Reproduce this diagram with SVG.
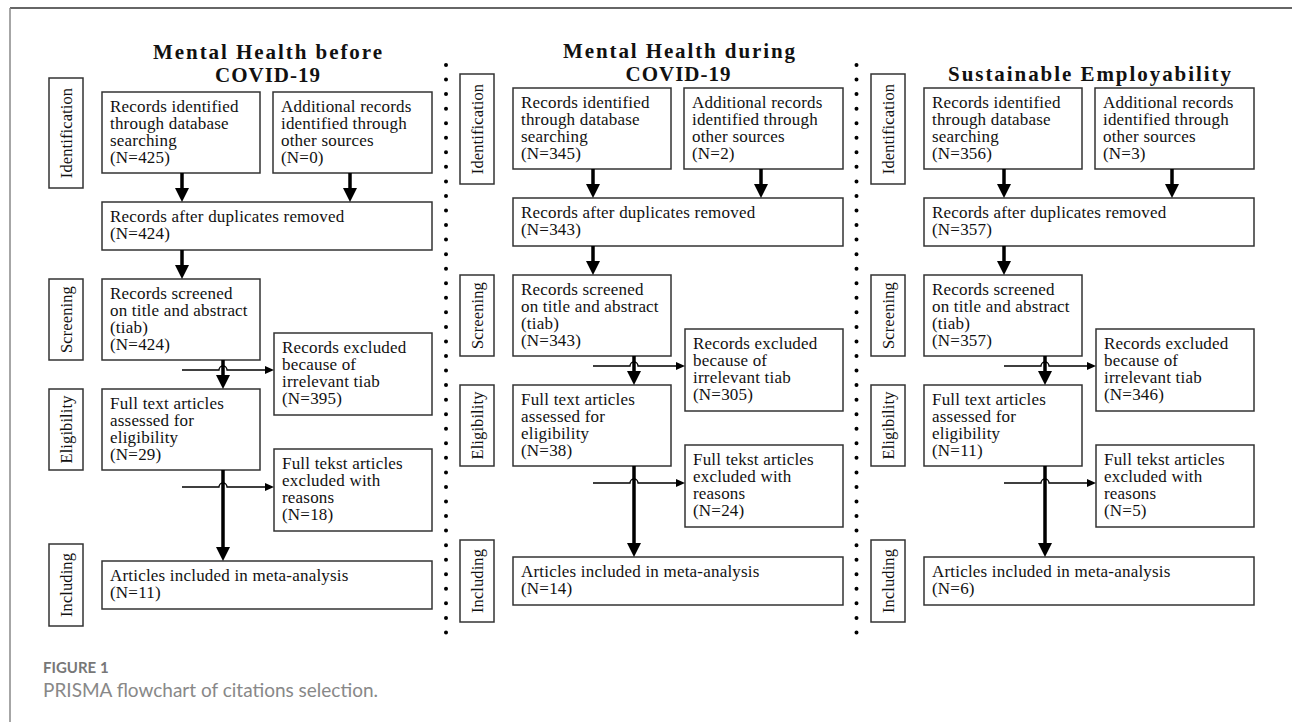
<svg xmlns="http://www.w3.org/2000/svg" width="1292" height="722" viewBox="0 0 1292 722">
<style>
.bg{fill:#fff}
.frame-top{stroke:#333;stroke-width:1.5}
.frame-left{stroke:#888;stroke-width:1.5}
.node rect{fill:#fff;stroke:#333;stroke-width:1.5}
.node text{font-family:"Liberation Serif",serif;font-size:17px;letter-spacing:0.2px;fill:#111}
.lbl text{text-anchor:middle;font-size:16.5px;letter-spacing:0.1px}
.title{font-family:"Liberation Serif",serif;font-weight:bold;font-size:21px;fill:#111;text-anchor:middle}
.thick{stroke:#000;stroke-width:3.5;fill:none}
.thin{stroke:#000;stroke-width:1.3;fill:none}
.dots{stroke:#000;stroke-width:4;stroke-linecap:round;stroke-dasharray:0 14.55}
.fig{font-family:Lato,"Open Sans",sans-serif;font-weight:bold;font-size:15px;fill:#777}
.cap{font-family:Lato,"Open Sans",sans-serif;font-size:19px;fill:#888}
</style>
<defs>
<marker id="ah" markerUnits="userSpaceOnUse" viewBox="0 0 14 14" refX="2" refY="7" markerWidth="14" markerHeight="14" orient="auto"><path d="M0,0 L14,7 L0,14 z" fill="#000"/></marker>
<marker id="ahs" markerUnits="userSpaceOnUse" viewBox="0 0 9 8" refX="2" refY="4" markerWidth="9" markerHeight="8" orient="auto"><path d="M0,0 L9,4 L0,8 z" fill="#000"/></marker>
</defs>
<rect class="bg" x="0" y="0" width="1292" height="722"/>
<line class="frame-top" x1="10" y1="8" x2="1292" y2="8"/>
<line class="frame-left" x1="10" y1="8" x2="10" y2="722"/>

<g id="dividers">
<line class="dots" x1="446" y1="65" x2="446" y2="640"/>
<line class="dots" x1="856.5" y1="65" x2="856.5" y2="640"/>
</g>

<g id="titles">
<text class="title" x="267.5" y="59" textLength="229" lengthAdjust="spacing">Mental Health before</text>
<text class="title" x="267.5" y="82" textLength="105" lengthAdjust="spacing">COVID-19</text>
<text class="title" x="679" y="58" textLength="232" lengthAdjust="spacing">Mental Health during</text>
<text class="title" x="678" y="81" textLength="105" lengthAdjust="spacing">COVID-19</text>
<text class="title" x="1089.5" y="81" textLength="283" lengthAdjust="spacing">Sustainable Employability</text>
</g>

<!-- Panel 1 -->
<g id="panel1">
<g id="p1-ident" class="node lbl" transform="translate(49,78)"><rect width="34" height="110"/><text transform="translate(23,55) rotate(-90)">Identification</text></g>
<g id="p1-screen" class="node lbl" transform="translate(49,279)"><rect width="34" height="81"/><text transform="translate(23,40.5) rotate(-90)">Screening</text></g>
<g id="p1-elig" class="node lbl" transform="translate(49,389)"><rect width="34" height="81"/><text transform="translate(23,40.5) rotate(-90)">Eligibility</text></g>
<g id="p1-incl" class="node lbl" transform="translate(49,544)"><rect width="34" height="82"/><text transform="translate(23,41) rotate(-90)">Including</text></g>
<g id="p1-db" class="node" transform="translate(102,92)"><rect width="158" height="81"/><text x="8" y="20">Records identified<tspan x="8" dy="17">through database</tspan><tspan x="8" dy="17">searching</tspan><tspan x="8" dy="17">(N=425)</tspan></text></g>
<g id="p1-other" class="node" transform="translate(273,92)"><rect width="159" height="81"/><text x="8" y="20">Additional records<tspan x="8" dy="17">identified through</tspan><tspan x="8" dy="17">other sources</tspan><tspan x="8" dy="17">(N=0)</tspan></text></g>
<g id="p1-dup" class="node" transform="translate(102,202)"><rect width="330" height="48"/><text x="8" y="20">Records after duplicates removed<tspan x="8" dy="17">(N=424)</tspan></text></g>
<g id="p1-scr" class="node" transform="translate(102,279)"><rect width="158" height="81"/><text x="8" y="20">Records screened<tspan x="8" dy="17">on title and abstract</tspan><tspan x="8" dy="17">(tiab)</tspan><tspan x="8" dy="17">(N=424)</tspan></text></g>
<g id="p1-exc1" class="node" transform="translate(274,333)"><rect width="158" height="82"/><text x="8" y="20">Records excluded<tspan x="8" dy="17">because of</tspan><tspan x="8" dy="17">irrelevant tiab</tspan><tspan x="8" dy="17">(N=395)</tspan></text></g>
<g id="p1-full" class="node" transform="translate(102,389)"><rect width="158" height="81"/><text x="8" y="20">Full text articles<tspan x="8" dy="17">assessed for</tspan><tspan x="8" dy="17">eligibility</tspan><tspan x="8" dy="17">(N=29)</tspan></text></g>
<g id="p1-exc2" class="node" transform="translate(274,449)"><rect width="158" height="82"/><text x="8" y="20">Full tekst articles<tspan x="8" dy="17">excluded with</tspan><tspan x="8" dy="17">reasons</tspan><tspan x="8" dy="17">(N=18)</tspan></text></g>
<g id="p1-incl-box" class="node" transform="translate(102,561)"><rect width="330" height="48"/><text x="8" y="20">Articles included in meta-analysis<tspan x="8" dy="17">(N=11)</tspan></text></g>
</g>

<!-- Panel 2 -->
<g id="panel2" transform="translate(411,-4)">
<g id="p2-ident" class="node lbl" transform="translate(49,78)"><rect width="34" height="110"/><text transform="translate(23,55) rotate(-90)">Identification</text></g>
<g id="p2-screen" class="node lbl" transform="translate(49,279)"><rect width="34" height="81"/><text transform="translate(23,40.5) rotate(-90)">Screening</text></g>
<g id="p2-elig" class="node lbl" transform="translate(49,389)"><rect width="34" height="81"/><text transform="translate(23,40.5) rotate(-90)">Eligibility</text></g>
<g id="p2-incl" class="node lbl" transform="translate(49,544)"><rect width="34" height="82"/><text transform="translate(23,41) rotate(-90)">Including</text></g>
<g id="p2-db" class="node" transform="translate(102,92)"><rect width="158" height="81"/><text x="8" y="20">Records identified<tspan x="8" dy="17">through database</tspan><tspan x="8" dy="17">searching</tspan><tspan x="8" dy="17">(N=345)</tspan></text></g>
<g id="p2-other" class="node" transform="translate(273,92)"><rect width="159" height="81"/><text x="8" y="20">Additional records<tspan x="8" dy="17">identified through</tspan><tspan x="8" dy="17">other sources</tspan><tspan x="8" dy="17">(N=2)</tspan></text></g>
<g id="p2-dup" class="node" transform="translate(102,202)"><rect width="330" height="48"/><text x="8" y="20">Records after duplicates removed<tspan x="8" dy="17">(N=343)</tspan></text></g>
<g id="p2-scr" class="node" transform="translate(102,279)"><rect width="158" height="81"/><text x="8" y="20">Records screened<tspan x="8" dy="17">on title and abstract</tspan><tspan x="8" dy="17">(tiab)</tspan><tspan x="8" dy="17">(N=343)</tspan></text></g>
<g id="p2-exc1" class="node" transform="translate(274,333)"><rect width="158" height="82"/><text x="8" y="20">Records excluded<tspan x="8" dy="17">because of</tspan><tspan x="8" dy="17">irrelevant tiab</tspan><tspan x="8" dy="17">(N=305)</tspan></text></g>
<g id="p2-full" class="node" transform="translate(102,389)"><rect width="158" height="81"/><text x="8" y="20">Full text articles<tspan x="8" dy="17">assessed for</tspan><tspan x="8" dy="17">eligibility</tspan><tspan x="8" dy="17">(N=38)</tspan></text></g>
<g id="p2-exc2" class="node" transform="translate(274,449)"><rect width="158" height="82"/><text x="8" y="20">Full tekst articles<tspan x="8" dy="17">excluded with</tspan><tspan x="8" dy="17">reasons</tspan><tspan x="8" dy="17">(N=24)</tspan></text></g>
<g id="p2-incl-box" class="node" transform="translate(102,561)"><rect width="330" height="48"/><text x="8" y="20">Articles included in meta-analysis<tspan x="8" dy="17">(N=14)</tspan></text></g>
</g>

<!-- Panel 3 -->
<g id="panel3" transform="translate(822,-4)">
<g id="p3-ident" class="node lbl" transform="translate(49,78)"><rect width="34" height="110"/><text transform="translate(23,55) rotate(-90)">Identification</text></g>
<g id="p3-screen" class="node lbl" transform="translate(49,279)"><rect width="34" height="81"/><text transform="translate(23,40.5) rotate(-90)">Screening</text></g>
<g id="p3-elig" class="node lbl" transform="translate(49,389)"><rect width="34" height="81"/><text transform="translate(23,40.5) rotate(-90)">Eligibility</text></g>
<g id="p3-incl" class="node lbl" transform="translate(49,544)"><rect width="34" height="82"/><text transform="translate(23,41) rotate(-90)">Including</text></g>
<g id="p3-db" class="node" transform="translate(102,92)"><rect width="158" height="81"/><text x="8" y="20">Records identified<tspan x="8" dy="17">through database</tspan><tspan x="8" dy="17">searching</tspan><tspan x="8" dy="17">(N=356)</tspan></text></g>
<g id="p3-other" class="node" transform="translate(273,92)"><rect width="159" height="81"/><text x="8" y="20">Additional records<tspan x="8" dy="17">identified through</tspan><tspan x="8" dy="17">other sources</tspan><tspan x="8" dy="17">(N=3)</tspan></text></g>
<g id="p3-dup" class="node" transform="translate(102,202)"><rect width="330" height="48"/><text x="8" y="20">Records after duplicates removed<tspan x="8" dy="17">(N=357)</tspan></text></g>
<g id="p3-scr" class="node" transform="translate(102,279)"><rect width="158" height="81"/><text x="8" y="20">Records screened<tspan x="8" dy="17">on title and abstract</tspan><tspan x="8" dy="17">(tiab)</tspan><tspan x="8" dy="17">(N=357)</tspan></text></g>
<g id="p3-exc1" class="node" transform="translate(274,333)"><rect width="158" height="82"/><text x="8" y="20">Records excluded<tspan x="8" dy="17">because of</tspan><tspan x="8" dy="17">irrelevant tiab</tspan><tspan x="8" dy="17">(N=346)</tspan></text></g>
<g id="p3-full" class="node" transform="translate(102,389)"><rect width="158" height="81"/><text x="8" y="20">Full text articles<tspan x="8" dy="17">assessed for</tspan><tspan x="8" dy="17">eligibility</tspan><tspan x="8" dy="17">(N=11)</tspan></text></g>
<g id="p3-exc2" class="node" transform="translate(274,449)"><rect width="158" height="82"/><text x="8" y="20">Full tekst articles<tspan x="8" dy="17">excluded with</tspan><tspan x="8" dy="17">reasons</tspan><tspan x="8" dy="17">(N=5)</tspan></text></g>
<g id="p3-incl-box" class="node" transform="translate(102,561)"><rect width="330" height="48"/><text x="8" y="20">Articles included in meta-analysis<tspan x="8" dy="17">(N=6)</tspan></text></g>
</g>

<g id="connectors">
<g id="c1">
<path class="thin" d="M182,370 H219 A4,4 0 0 1 227,370 H267" marker-end="url(#ahs)"/>
<path class="thin" d="M182,487 H219 A4,4 0 0 1 227,487 H267" marker-end="url(#ahs)"/>
<path class="thick" d="M182,173 V190" marker-end="url(#ah)"/>
<path class="thick" d="M350,173 V190" marker-end="url(#ah)"/>
<path class="thick" d="M182,250 V267" marker-end="url(#ah)"/>
<path class="thick" d="M223,360 V377" marker-end="url(#ah)"/>
<path class="thick" d="M223,470 V549" marker-end="url(#ah)"/>
</g>
<g id="c2" transform="translate(411,-4)">
<path class="thin" d="M182,370 H219 A4,4 0 0 1 227,370 H267" marker-end="url(#ahs)"/>
<path class="thin" d="M182,487 H219 A4,4 0 0 1 227,487 H267" marker-end="url(#ahs)"/>
<path class="thick" d="M182,173 V190" marker-end="url(#ah)"/>
<path class="thick" d="M350,173 V190" marker-end="url(#ah)"/>
<path class="thick" d="M182,250 V267" marker-end="url(#ah)"/>
<path class="thick" d="M223,360 V377" marker-end="url(#ah)"/>
<path class="thick" d="M223,470 V549" marker-end="url(#ah)"/>
</g>
<g id="c3" transform="translate(822,-4)">
<path class="thin" d="M182,370 H219 A4,4 0 0 1 227,370 H267" marker-end="url(#ahs)"/>
<path class="thin" d="M182,487 H219 A4,4 0 0 1 227,487 H267" marker-end="url(#ahs)"/>
<path class="thick" d="M182,173 V190" marker-end="url(#ah)"/>
<path class="thick" d="M350,173 V190" marker-end="url(#ah)"/>
<path class="thick" d="M182,250 V267" marker-end="url(#ah)"/>
<path class="thick" d="M223,360 V377" marker-end="url(#ah)"/>
<path class="thick" d="M223,470 V549" marker-end="url(#ah)"/>
</g>
</g>

<g id="caption">
<text class="fig" x="43" y="673">FIGURE 1</text>
<text class="cap" x="43" y="697" textLength="335" lengthAdjust="spacingAndGlyphs">PRISMA flowchart of citations selection.</text>
</g>
</svg>
